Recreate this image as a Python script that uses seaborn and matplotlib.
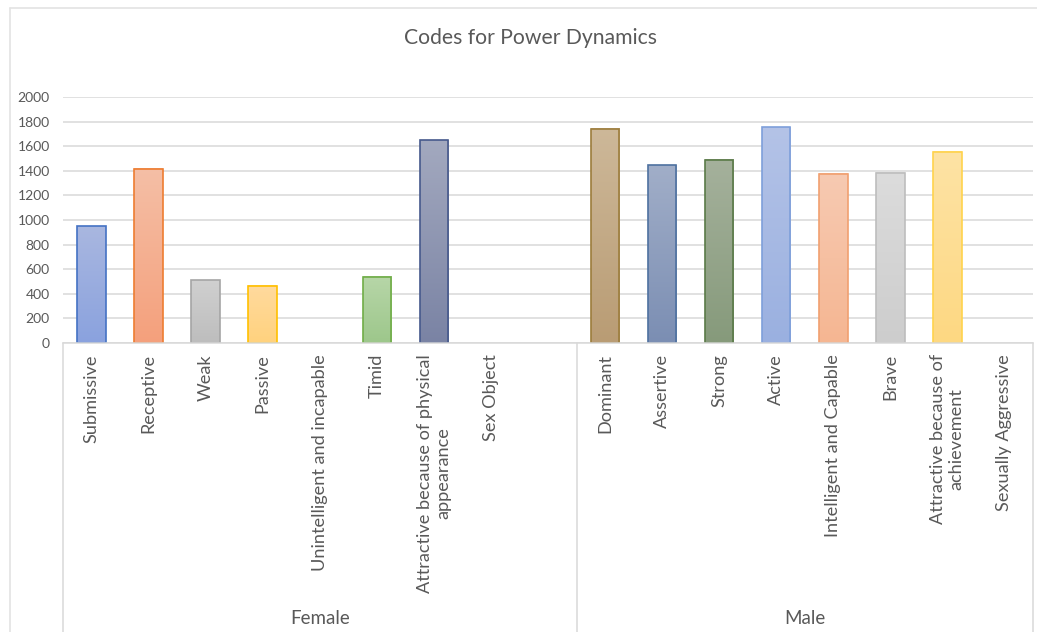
import numpy as np
import pandas as pd
import matplotlib
matplotlib.use("Agg")
import matplotlib.pyplot as plt
import seaborn as sns
from matplotlib.colors import LinearSegmentedColormap
from matplotlib.lines import Line2D
from matplotlib.transforms import blended_transform_factory

# ---- data ----
group_names = ["Female", "Male"]
female_codes = [
    "Submissive", "Receptive", "Weak", "Passive",
    "Unintelligent and incapable", "Timid",
    "Attractive because of physical\nappearance", "Sex Object",
]
male_codes = [
    "Dominant", "Assertive", "Strong", "Active",
    "Intelligent and Capable", "Brave",
    "Attractive because of\nachievement", "Sexually Aggressive",
]
female_counts = [950, 1415, 510, 465, 0, 540, 1650, 0]
male_counts = [1740, 1445, 1490, 1755, 1378, 1385, 1555, 0]
y_ticks = [0, 200, 400, 600, 800, 1000, 1200, 1400, 1600, 1800, 2000]

codes = female_codes + male_codes
counts = female_counts + male_counts
groups = [group_names[0]] * len(female_codes) + [group_names[1]] * len(male_codes)
df = pd.DataFrame({"group": groups, "code": codes, "count": counts})

# the female block carries one empty slot before the male block starts
SPACER = " "
order = female_codes + [SPACER] + male_codes

# ---- styling: outline, top and bottom gradient colours per bar ----
edge_colors = [
    "#4472C4", "#ED7D31", "#A5A5A5", "#FFC000", "#5B9BD5", "#70AD47", "#46598C", "#9E480E",
    "#9C7D3C", "#4E71A0", "#5A7A48", "#7E9FDA", "#F1A070", "#BDBDBD", "#FFD34D", "#636363",
]
top_colors = [
    "#A9B7E0", "#F5BFA6", "#D0D0D0", "#FFDA9E", "#A9C8EA", "#B7D6A8", "#A3A9BF", "#C98F6A",
    "#CDB899", "#A1AEC8", "#A5B19C", "#B4C3E7", "#F7CAB2", "#DCDCDC", "#FEE3A5", "#B0B0B0",
]
bottom_colors = [
    "#8AA2DE", "#F4A07C", "#BDBDBD", "#FFD27E", "#8FB8E3", "#9DC78B", "#7A83A4", "#B5734A",
    "#B99C74", "#7B8EB3", "#869A7B", "#9AB0E0", "#F5B692", "#CDCDCD", "#FDD882", "#999999",
]
edge_map = dict(zip(codes, edge_colors))
top_map = dict(zip(codes, top_colors))
bottom_map = dict(zip(codes, bottom_colors))

TEXT = "#595959"
GRID = "#D9D9D9"
W, H = 1037, 632

sns.set_theme(style="white")
plt.rcParams["font.family"] = ["Lato", "DejaVu Sans"]

fig = plt.figure(figsize=(W / 100, H / 100), dpi=100)
ax = fig.add_axes([63 / W, 1 - 343 / H, 970 / W, 246 / H])

sns.barplot(
    data=df, x="code", y="count", hue="code", order=order, hue_order=codes,
    palette=edge_map, saturation=1, width=0.5, legend=False, ax=ax,
)

# vertical gradient fill inside each bar, outline on top
for patch in list(ax.patches):
    h = patch.get_height()
    x0, w = patch.get_x(), patch.get_width()
    idx = int(round(x0 + w / 2))
    name = order[idx]
    if not np.isfinite(h) or h <= 0 or name == SPACER:
        patch.set_visible(False)
        continue
    cmap = LinearSegmentedColormap.from_list(
        f"grad{idx}", [bottom_map[name], top_map[name]]
    )
    grad = np.linspace(0, 1, 256).reshape(-1, 1)
    ax.imshow(grad, extent=(x0, x0 + w, 0, h), origin="lower", cmap=cmap,
              aspect="auto", zorder=1.5, interpolation="bilinear")
    patch.set_facecolor("none")
    patch.set_edgecolor(edge_map[name])
    patch.set_linewidth(1.2)
    patch.set_zorder(2)

ax.set_xlim(-0.5, len(order) - 0.5)
ax.set_ylim(0, 2000)
ax.set_yticks(y_ticks)
ax.set_yticklabels([str(v) for v in y_ticks])
ax.yaxis.grid(True, color=GRID, linewidth=1.1)
ax.set_axisbelow(True)
for side in ["left", "right", "top"]:
    ax.spines[side].set_visible(False)
ax.spines["bottom"].set_color(GRID)
ax.spines["bottom"].set_linewidth(1.1)
ax.tick_params(axis="y", length=0, pad=9.5, labelsize=10, labelcolor=TEXT)

ax.set_xticks(range(len(order)))
ax.set_xticklabels(order, rotation=90, ha="center", va="top",
                   multialignment="center", linespacing=1.2)
ax.tick_params(axis="x", length=0, pad=8, labelsize=13.1, labelcolor=TEXT)
ax.set_xlabel("")
ax.set_ylabel("")

# two-level category axis: group boxes and group names
tr = blended_transform_factory(ax.transData, fig.transFigure)
y_axis = 1 - 343 / H
n_f = len(female_codes) + 1
for xb in [-0.5, n_f - 0.5, len(order) - 0.5]:
    ax.add_line(Line2D([xb, xb], [y_axis, 0], transform=tr, color=GRID,
                       linewidth=1.1, clip_on=False))
centers = [(n_f - 1) / 2, n_f + (len(male_codes) - 1) / 2]
for cx, name in zip(centers, group_names):
    ax.text(cx, 1 - 618 / H, name, transform=tr, ha="center", va="center",
            fontsize=13.5, color=TEXT)

# title
fig.text(530 / W, 1 - 38 / H, "Codes for Power Dynamics", ha="center",
         va="center", fontsize=15.2, color=TEXT)

# chart-area border
fig.add_artist(Line2D([10 / W, 10 / W], [0, 1 - 8 / H], transform=fig.transFigure,
                      color="#E3E3E3", linewidth=1.2))
fig.add_artist(Line2D([10 / W, 1], [1 - 8 / H, 1 - 8 / H], transform=fig.transFigure,
                      color="#E3E3E3", linewidth=1.2))

fig.savefig("out.png", dpi=100)
